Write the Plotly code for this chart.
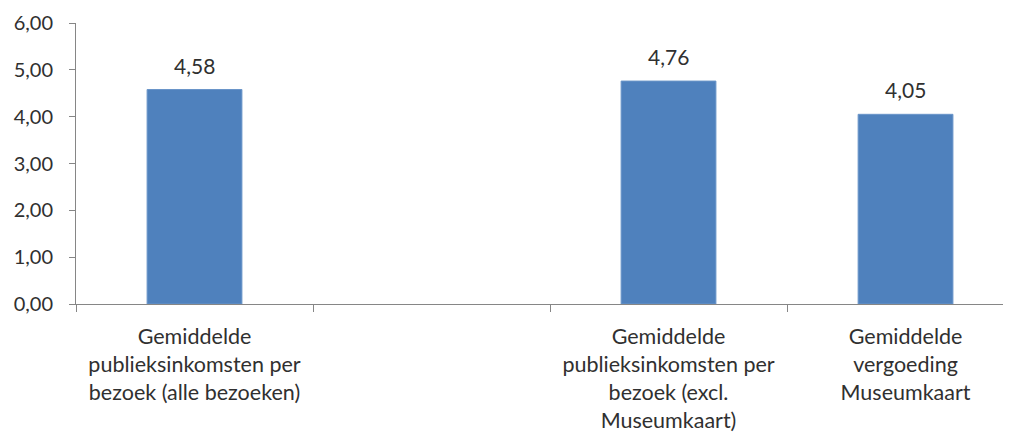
import plotly.graph_objects as go

categories = [
    "Gemiddelde<br>publieksinkomsten per<br>bezoek (alle bezoeken)",
    " ",
    "Gemiddelde<br>publieksinkomsten per<br>bezoek (excl.<br>Museumkaart)",
    "Gemiddelde<br>vergoeding<br>Museumkaart",
]
values = [4.58, None, 4.76, 4.05]
y_ticks = [0, 1, 2, 3, 4, 5, 6]

FONT = "Lato, Open Sans, sans-serif"
TEXT = "#303030"

fig = go.Figure(
    go.Bar(
        x=categories,
        y=values,
        marker=dict(color="#4F81BD", line=dict(color="#6A95C9", width=1)),
    )
)

for c, v in zip(categories, values):
    if v is None:
        continue
    fig.add_annotation(
        x=c, y=v, text=f"{v:.2f}".replace(".", ","), showarrow=False,
        yanchor="bottom", yshift=10,
        font=dict(family=FONT, size=21, color=TEXT),
    )

# page body adds an 8px offset; size the figure to fit the 1011x434 window
fig.update_layout(
    width=1003,
    height=426,
    margin=dict(l=68, r=0, t=15, b=130),
    plot_bgcolor="white",
    paper_bgcolor="white",
    bargap=0.6,
    separators=",.",
    showlegend=False,
    font=dict(family=FONT, size=19, color=TEXT),
)
fig.update_xaxes(
    type="category",
    range=[-0.5, 3.445],
    tickson="boundaries",
    ticks="outside",
    ticklen=7,
    tickcolor="#868686",
    showline=True,
    linecolor="#868686",
    linewidth=1,
    showgrid=False,
    automargin=False,
    ticklabelstandoff=13,
    tickfont=dict(family=FONT, size=21.5, color=TEXT),
)
fig.update_yaxes(
    range=[0, 6],
    tickvals=y_ticks,
    tickformat=".2f",
    ticks="outside",
    ticklen=6,
    tickcolor="#868686",
    showline=True,
    linecolor="#868686",
    linewidth=1,
    showgrid=False,
    zeroline=False,
    automargin=False,
    ticklabelstandoff=12,
    tickfont=dict(family=FONT, size=20, color=TEXT),
)

fig.write_html("out.html")
